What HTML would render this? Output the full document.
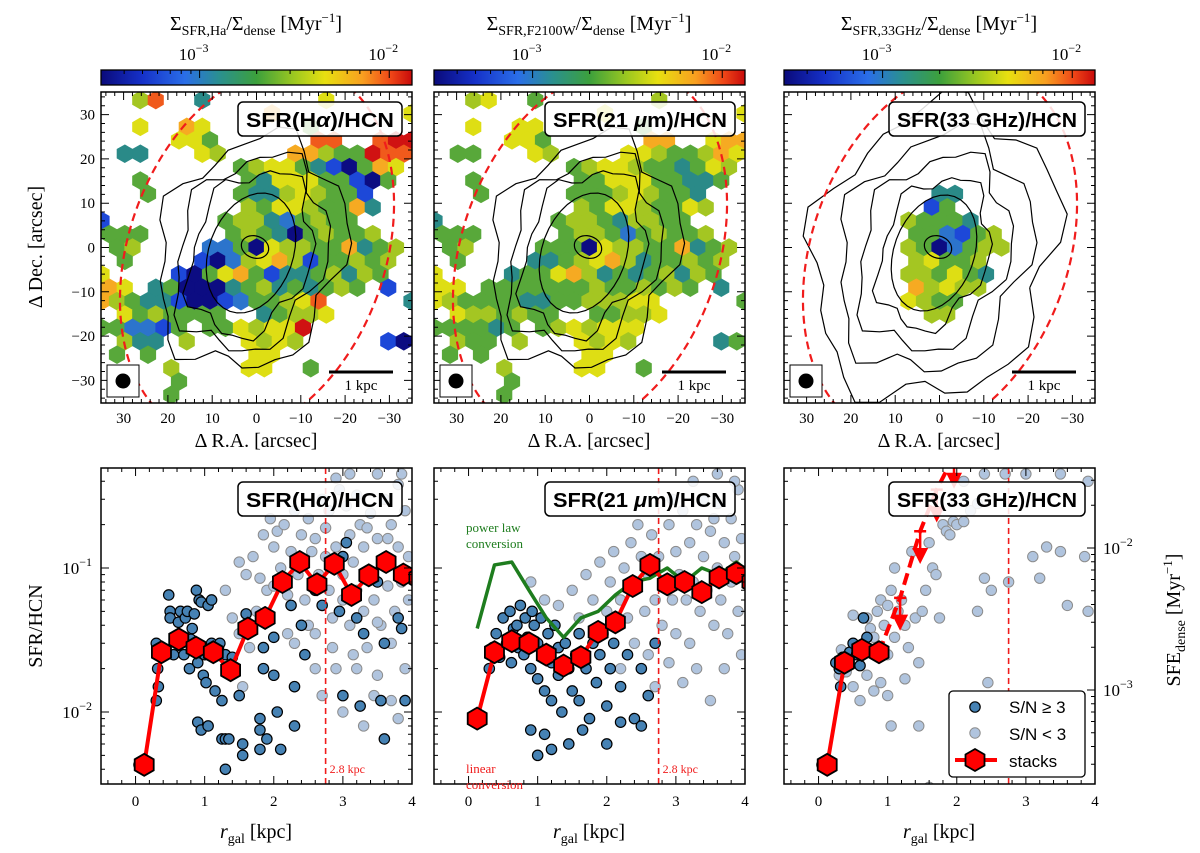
<!DOCTYPE html>
<html><head><meta charset="utf-8"><style>
body{margin:0;background:#fff}
svg{display:block}
.sf{font-family:"Liberation Serif","DejaVu Serif",serif}
.ss{font-family:"Liberation Sans","DejaVu Sans",sans-serif}
</style></head><body>
<svg id="fig" width="1200" height="853" viewBox="0 0 1200 853" xmlns="http://www.w3.org/2000/svg">
<defs>
<linearGradient id="jet" x1="0" x2="1" y1="0" y2="0">
<stop offset="0" stop-color="#0a0a7a"/><stop offset="0.13" stop-color="#1530c8"/><stop offset="0.27" stop-color="#2a6ee8"/><stop offset="0.38" stop-color="#2a9090"/><stop offset="0.5" stop-color="#3ca03c"/><stop offset="0.62" stop-color="#9cc820"/><stop offset="0.72" stop-color="#e8e010"/><stop offset="0.84" stop-color="#f8a020"/><stop offset="0.93" stop-color="#f04818"/><stop offset="1" stop-color="#c80a0a"/>
</linearGradient>
<clipPath id="cm0"><rect x="101" y="92" width="311" height="311"/></clipPath>
<clipPath id="cm1"><rect x="434" y="92" width="311" height="311"/></clipPath>
<clipPath id="cm2"><rect x="784" y="92" width="311" height="311"/></clipPath>
<clipPath id="cb0"><rect x="101" y="468" width="311" height="316"/></clipPath>
<clipPath id="cb1"><rect x="434" y="468" width="311" height="316"/></clipPath>
<clipPath id="cb2"><rect x="784" y="468" width="311" height="316"/></clipPath>
</defs>
</svg>
<script>
// ---------- data ----------
const stackR = [0.125,0.375,0.625,0.875,1.125,1.375,1.625,1.875,2.125,2.375,2.625,2.875,3.125,3.375,3.625,3.875,4.1];
const stack1 = [0.0043,0.026,0.032,0.028,0.026,0.0195,0.038,0.045,0.080,0.11,0.077,0.107,0.065,0.089,0.11,0.09,0.085];
const stack2 = [0.009,0.026,0.031,0.030,0.025,0.021,0.024,0.036,0.042,0.075,0.105,0.077,0.080,0.068,0.086,0.092,0.08];
const green2 = [0.038,0.105,0.11,0.07,0.045,0.033,0.045,0.05,0.065,0.08,0.085,0.10,0.08,0.10,0.09,0.11,0.09];
const stack3R = [0.125,0.375,0.625,0.875];
const stack3 = [0.0043,0.022,0.027,0.026];
const limit3R = [1.18,1.47,1.71,1.96];
const limit3 = [0.062,0.18,0.35,0.6];
const dark1 = [[0.05,0.0043],[0.3,0.012],[0.33,0.015],[0.32,0.02],[0.35,0.026],[0.3,0.03],[0.45,0.026],[0.5,0.05],[0.5,0.045],[0.48,0.065],[0.55,0.025],[0.6,0.03],[0.62,0.042],[0.65,0.05],[0.7,0.025],[0.72,0.045],[0.75,0.05],[0.78,0.02],[0.8,0.032],[0.82,0.038],[0.85,0.048],[0.88,0.07],[0.9,0.022],[0.92,0.06],[0.95,0.058],[0.98,0.018],[1.0,0.025],[1.02,0.016],[1.05,0.055],[1.1,0.06],[1.1,0.03],[1.15,0.014],[1.2,0.028],[1.22,0.03],[1.25,0.012],[1.3,0.025],[1.35,0.02],[1.4,0.024],[0.9,0.0085],[0.95,0.0075],[1.05,0.008],[1.25,0.0065],[1.3,0.0065],[1.35,0.0065],[1.55,0.006],[1.55,0.005],[1.3,0.004],[1.5,0.013],[1.6,0.048],[1.8,0.009],[1.8,0.0075],[1.85,0.028],[1.85,0.02],[1.9,0.0065],[1.8,0.0055],[2.0,0.018],[2.05,0.01],[2.1,0.0055],[2.0,0.033],[2.3,0.015],[2.3,0.008],[2.25,0.055],[2.4,0.04],[2.45,0.025],[2.6,0.07],[2.7,0.055],[2.85,0.1],[3.0,0.12],[3.05,0.15],[3.0,0.013],[3.2,0.045],[3.3,0.035],[3.5,0.08],[3.6,0.03],[3.55,0.012],[3.8,0.045],[3.85,0.038],[3.9,0.012],[2.95,0.05],[3.25,0.011],[3.6,0.0065]];
const light1 = [[1.3,0.07],[1.5,0.11],[1.6,0.09],[1.55,0.015],[1.7,0.12],[1.8,0.085],[1.85,0.17],[1.9,0.07],[2.0,0.14],[2.05,0.18],[2.1,0.1],[2.15,0.2],[2.2,0.065],[2.25,0.13],[2.3,0.25],[2.35,0.09],[2.4,0.17],[2.45,0.06],[2.5,0.22],[2.55,0.13],[2.6,0.16],[2.6,0.035],[2.65,0.09],[2.7,0.3],[2.75,0.19],[2.8,0.07],[2.8,0.25],[2.85,0.045],[2.9,0.14],[2.9,0.02],[2.95,0.35],[3.0,0.09],[3.0,0.06],[3.05,0.27],[3.1,0.04],[3.1,0.17],[3.15,0.025],[3.15,0.11],[3.2,0.32],[3.2,0.07],[3.25,0.2],[3.3,0.05],[3.3,0.14],[3.35,0.028],[3.4,0.09],[3.4,0.24],[3.45,0.06],[3.5,0.16],[3.5,0.018],[3.55,0.04],[3.6,0.11],[3.6,0.3],[3.65,0.075],[3.7,0.2],[3.7,0.03],[3.75,0.05],[3.8,0.14],[3.8,0.38],[3.85,0.08],[3.9,0.25],[3.9,0.02],[3.95,0.06],[3.95,0.12],[2.2,0.035],[2.5,0.04],[2.6,0.02],[3.3,0.008],[3.0,0.01],[2.7,0.013],[3.8,0.009],[3.45,0.013],[2.0,0.075],[1.75,0.05],[1.4,0.045],[1.5,0.035],[1.65,0.028],[2.3,0.03],[2.85,0.028],[3.5,0.042],[3.2,0.02],[2.4,0.11],[1.95,0.22],[2.75,0.12],[3.35,0.19],[3.65,0.16],[3.1,0.45],[3.5,0.45],[3.85,0.45],[2.9,0.42],[3.7,0.012]];
const dark2 = [[0.1,0.009],[0.3,0.02],[0.35,0.028],[0.4,0.035],[0.45,0.024],[0.5,0.045],[0.55,0.03],[0.6,0.05],[0.62,0.022],[0.65,0.038],[0.7,0.04],[0.72,0.028],[0.75,0.055],[0.8,0.025],[0.82,0.045],[0.85,0.033],[0.9,0.02],[0.92,0.05],[0.95,0.04],[1.0,0.03],[1.0,0.017],[1.05,0.045],[1.1,0.025],[1.1,0.014],[1.15,0.035],[1.2,0.022],[1.2,0.012],[1.25,0.04],[1.3,0.028],[1.3,0.018],[1.35,0.01],[1.4,0.03],[1.45,0.02],[1.5,0.014],[1.55,0.025],[1.6,0.035],[1.6,0.012],[1.7,0.02],[1.75,0.009],[1.8,0.03],[1.85,0.016],[1.9,0.025],[2.0,0.011],[2.05,0.02],[2.1,0.03],[2.2,0.015],[2.3,0.025],[2.4,0.009],[2.5,0.02],[2.6,0.013],[2.7,0.03],[0.9,0.0075],[1.2,0.0055],[1.45,0.006],[1.1,0.007],[1.65,0.0075],[2.2,0.0085],[2.5,0.008],[1.0,0.005],[2.0,0.006]];
const light2 = [[0.9,0.08],[1.1,0.06],[1.3,0.055],[1.5,0.07],[1.6,0.045],[1.7,0.09],[1.8,0.06],[1.9,0.11],[2.0,0.05],[2.05,0.08],[2.1,0.13],[2.2,0.06],[2.25,0.1],[2.3,0.045],[2.35,0.15],[2.4,0.07],[2.5,0.12],[2.55,0.05],[2.6,0.09],[2.65,0.17],[2.7,0.06],[2.75,0.12],[2.8,0.04],[2.85,0.08],[2.9,0.2],[2.95,0.06],[3.0,0.13],[3.0,0.035],[3.05,0.09],[3.1,0.25],[3.15,0.06],[3.2,0.15],[3.2,0.03],[3.25,0.08],[3.3,0.2],[3.35,0.05],[3.4,0.12],[3.4,0.3],[3.45,0.07],[3.5,0.18],[3.55,0.04],[3.6,0.1],[3.6,0.28],[3.65,0.06],[3.7,0.15],[3.75,0.035],[3.8,0.22],[3.8,0.08],[3.85,0.12],[3.9,0.05],[3.9,0.35],[3.95,0.16],[2.4,0.03],[2.6,0.025],[2.9,0.022],[3.3,0.02],[3.7,0.02],[3.5,0.012],[2.2,0.02],[1.95,0.035],[3.85,0.4],[3.6,0.45],[3.25,0.4],[2.7,0.015],[3.1,0.016],[3.95,0.025],[2.95,0.3],[3.55,0.22],[3.7,0.09],[2.45,0.2]];
const dark3 = [[0.05,0.0043],[0.25,0.022],[0.3,0.02],[0.32,0.015],[0.35,0.024],[0.4,0.021],[0.45,0.026],[0.5,0.03],[0.55,0.025],[0.6,0.021],[0.65,0.045],[0.7,0.033]];
const light3 = [[0.3,0.018],[0.33,0.027],[0.4,0.019],[0.5,0.047],[0.6,0.028],[0.7,0.045],[0.75,0.038],[0.8,0.033],[0.85,0.05],[0.9,0.06],[0.95,0.04],[1.0,0.055],[1.0,0.025],[1.05,0.07],[1.1,0.033],[1.1,0.1],[1.15,0.05],[1.2,0.06],[1.25,0.04],[1.3,0.028],[1.35,0.13],[1.4,0.045],[1.45,0.022],[1.5,0.05],[1.55,0.07],[1.6,0.15],[1.65,0.1],[1.7,0.09],[1.75,0.045],[1.8,0.2],[1.85,0.18],[1.9,0.17],[1.95,0.21],[2.0,0.2],[2.1,0.21],[2.2,0.25],[2.3,0.28],[2.4,0.085],[2.5,0.07],[2.45,0.016],[2.75,0.08],[3.1,0.12],[3.2,0.085],[3.3,0.14],[3.5,0.13],[3.6,0.055],[3.85,0.12],[3.9,0.05],[0.5,0.015],[0.6,0.012],[0.7,0.018],[0.8,0.014],[0.9,0.016],[1.05,0.008],[1.0,0.013],[1.25,0.017],[1.45,0.008],[1.6,0.003],[2.3,0.05],[2.1,0.4],[2.4,0.45],[2.7,0.45],[3.0,0.45],[3.5,0.45],[3.9,0.4]];
// hex map level grids (0=dark blue ... 9=red)
const grid1 = ["..58..3.......6.......","...........7........6.","..6..76......4........",".....664......88..8998",".33...65....775449888.",".........45664310476..","..4......4366644104..5","...4.....433565441...2",".........546654473...1","1.......455324544.....","444.....4543045445....",".45....2240655447345.5",".4....1025675144545.4.","6....10467413345354...","76.34000345343454.1...","754331001244568.....3.",".6454444..34556.......","442214.4465669........",".533.5...6565.....10..",".4.4......66..........","....5....66..4........",".....4................","....4................."];
const grid2 = ["..56..4.......5.......","...........6........6.","..6..66......4........",".....664......77..6776",".44...65....665445766.",".........45665443465..","..4......4466644334..5","...4.....444565443...3",".........546654465...3","3.......455435544.....","444.....4554245445....",".45....4440655447345.5",".4....3345675344545.4.","6....34467534345354...","66.44444445445454.3...","654444334455566.....4.",".6554544..44556.......","444434.4565666........",".544.5...6565.....34..",".4.4......66..........","....5....66..4........",".....4................","....4................."];
const grid3 = [".......................",".......................",".......................",".......................",".......................",".......................",".......................","..........33...........",".........14............","........54443..........","........442145.........","........5402455........","........56445..........","........554643.........","........75655..........","........6544...........",".........55............"];
const levelColors = ["#0c0c82","#1d48d8","#2c74cc","#2a8a88","#58a83a","#a4c622","#dede14","#f6aa22","#f05a1c","#d01212"];

// ---------- helpers ----------
const NS="http://www.w3.org/2000/svg";
const svg=document.getElementById('fig');
function mk(tag,attrs,parent){const e=document.createElementNS(NS,tag);for(const k in attrs)e.setAttribute(k,attrs[k]);(parent||svg).appendChild(e);return e;}
const PX=[101,434,784], PW=311;
const MT=92, MH=311, BT=468, BH=316;
function xr(p,r){return PX[p]+(r+0.5)/4.5*PW;}
function yv(v){return 568-(Math.log10(v)+1)*144;}
function ys(v){return 548-(Math.log10(v)+2)*142;}
function ax(p,a){return PX[p]+155.5-a*4.43;}
function dy(d){return 247.5-d*4.43;}
function cbx(p,v){return PX[p]+(Math.log10(v)+3.52)/1.64*PW;}

for(let p=0;p<3;p++){
  // ---------- colorbar ----------
  const cb=mk('rect',{x:PX[p],y:70,width:PW,height:15,fill:'url(#jet)',stroke:'#000','stroke-width':1.3});
  
  
  for(let e=-4;e<=-2;e++)for(let m=1;m<10;m++){const v=m*Math.pow(10,e);const x=cbx(p,v);if(x<PX[p]+1||x>PX[p]+PW-1)continue;
    const t=mk('line',{x1:x,x2:x,y1:70,y2:m===1?78:74,stroke:'#000','stroke-width':1});
    
    }
  [-3,-2].forEach((e)=>{const t=mk('text',{x:cbx(p,Math.pow(10,e))-6,y:60,'font-size':17,'text-anchor':'middle',class:'sf'});
    t.innerHTML='10<tspan font-size="12" dy="-8">−'+(-e)+'</tspan>';
    
    });
  const sub=['SFR,Ha','SFR,F2100W','SFR,33GHz'][p];
  const ct=mk('text',{x:PX[p]+155,y:30,'font-size':20,'text-anchor':'middle',class:'sf'});
  ct.innerHTML='Σ<tspan font-size="14" dy="5">'+sub+'</tspan><tspan dy="-5">/Σ</tspan><tspan font-size="14" dy="5">dense</tspan><tspan dy="-5"> [Myr</tspan><tspan font-size="13" dy="-8">−1</tspan><tspan dy="8">]</tspan>';
  
  

  // ---------- map ----------
  const mg=mk('g',{'clip-path':'url(#cm'+p+')'});
  
  
  const grid=[grid1,grid2,grid3][p];
  const R=8.95;
  grid.forEach((row,r)=>{for(let c=0;c<row.length;c++){const ch=row[c];if(ch==='.')continue;
    const cx=PX[p]+155.5+(c-10)*15.5+(r%2===0?7.75:0), cy=247.5+(r-11)*13.4;
    let pts=[];for(let k=0;k<6;k++){const a=Math.PI/180*(60*k-90);pts.push((cx+R*Math.cos(a)).toFixed(1)+','+(cy+R*Math.sin(a)).toFixed(1));}
    const h=mk('polygon',{points:pts.join(' '),fill:levelColors[+ch],stroke:levelColors[+ch],'stroke-width':0.6},mg);
    
    }});
  // contours
  const cont = p===2 ? [[14,11],[40,60],[52,78],[72,100],[92,122],[118,150]] : [[14,11],[42,62],[58,85],[72,100],[90,118]];
  cont.forEach(([rx,ry],i)=>{
    let d='';const n=36;for(let k=0;k<=n;k++){const a=2*Math.PI*k/n;const w=1+(i>1?0.09*Math.sin(5*a+i)+0.06*Math.cos(9*a+2*i):0);
      const ex=rx*w*Math.cos(a), ey=ry*w*Math.sin(a);const th=20*Math.PI/180;
      const X=PX[p]+154+(i>0?-4:0)+ex*Math.cos(th)-ey*Math.sin(th), Y=247+(i>0?6:0)+ex*Math.sin(th)+ey*Math.cos(th);
      d+=(k?'L':'M')+X.toFixed(1)+' '+Y.toFixed(1);}
    const c=mk('path',{d:d,fill:'none',stroke:'#000','stroke-width':1.2},mg);
    
    });
  const el=mk('ellipse',{cx:PX[p]+156,cy:252,rx:128,ry:192,transform:'rotate(20 '+(PX[p]+156)+' 252)',fill:'none',stroke:'#f01c1c','stroke-width':2.2,'stroke-dasharray':'8 5'},mg);
  
  
  // frame + ticks
  const mf=mk('rect',{x:PX[p],y:MT,width:PW,height:MH,fill:'none',stroke:'#000','stroke-width':1.5});
  
  
  for(let a=-34;a<=34;a+=2){const major=a%10===0;const L=major?8:4;const x=ax(p,a),y=dy(a);
    const t1=mk('path',{d:`M${x} ${MT}v${L}M${x} ${MT+MH}v${-L}M${PX[p]} ${y}h${L}M${PX[p]+PW} ${y}h${-L}`,stroke:'#000','stroke-width':1});
    
    
    if(major){const lx=mk('text',{x:x,y:423,'font-size':15,'text-anchor':'middle',class:'sf'});lx.textContent=a===0?'0':(a<0?'−'+(-a):a);
      
      
      if(p===0){const ly=mk('text',{x:95,y:y+5,'font-size':15,'text-anchor':'end',class:'sf'});ly.textContent=a===0?'0':(a<0?'−'+(-a):a);
        
        }}}
  const xl=mk('text',{x:PX[p]+155,y:447,'font-size':20,'text-anchor':'middle',class:'sf'});xl.textContent='Δ R.A. [arcsec]';
  
  
  // beam and scale bar
  const bb=mk('rect',{x:PX[p]+6,y:365,width:32,height:32,fill:'#fff',stroke:'#000','stroke-width':1});
  
  
  const bc=mk('circle',{cx:PX[p]+22,cy:381,r:7.5,fill:'#000'});
  
  
  const sb=mk('line',{x1:PX[p]+228,x2:PX[p]+292,y1:372,y2:372,stroke:'#000','stroke-width':3});
  
  
  const st=mk('text',{x:PX[p]+260,y:390,'font-size':15,'text-anchor':'middle',class:'sf'});st.textContent='1 kpc';
  
  

  // ---------- bottom scatter panel ----------
  const bg=mk('g',{'clip-path':'url(#cb'+p+')'});
  
  
  const lt=[light1,light2,light3][p], dk=[dark1,dark2,dark3][p];
  lt.forEach(([r,v])=>{const c=mk('circle',{cx:xr(p,r),cy:yv(v),r:5.2,fill:'#b0c4de',stroke:'#8c8c8c','stroke-width':1},bg);
    
    });
  dk.forEach(([r,v])=>{const c=mk('circle',{cx:xr(p,r),cy:yv(v),r:5.2,fill:'#4682b4',stroke:'#000','stroke-width':1.2},bg);
    
    });
  const vl=mk('line',{x1:xr(p,2.75),x2:xr(p,2.75),y1:BT,y2:BT+BH,stroke:'#f01c1c','stroke-width':1.6,'stroke-dasharray':'6 4'},bg);
  
  
  if(p<2){const t=mk('text',{x:xr(p,2.75)+4,y:773,'font-size':12,fill:'#f01c1c',class:'sf'});t.textContent='2.8 kpc';
    
    }
  if(p===1){const g=mk('polyline',{points:stackR.map((r,i)=>xr(1,r)+','+yv(green2[i])).join(' '),fill:'none',stroke:'#1e7d1e','stroke-width':3.5,'stroke-linejoin':'round'},bg);
    
    }
  const sR=p===2?stack3R:stackR, sV=[stack1,stack2,stack3][p];
  const sl=mk('polyline',{points:sR.map((r,i)=>xr(p,r)+','+yv(sV[i])).join(' '),fill:'none',stroke:'#ff0000','stroke-width':4,'stroke-linejoin':'round'},bg);
  
  
  if(p===2){
    const lp=[[stack3R[3],stack3[3]]].concat(limit3R.map((r,i)=>[r,limit3[i]]));
    const dl=mk('polyline',{points:lp.map(([r,v])=>xr(2,r)+','+yv(v)).join(' '),fill:'none',stroke:'#ff0000','stroke-width':4,'stroke-dasharray':'12 6'},bg);
    
    
    limit3R.forEach((r,i)=>{const x=xr(2,r),y=yv(limit3[i]);
      const a=mk('path',{d:`M${x-6} ${y}h12M${x} ${y}v26M${x-6} ${y+18}L${x} ${y+30}L${x+6} ${y+18}Z`,stroke:'#ff0000','stroke-width':2.5,fill:'#ff0000'},bg);
      
      });
  }
  sR.forEach((r,i)=>{const cx=xr(p,r),cy=yv(sV[i]);let pts=[];for(let k=0;k<6;k++){const a=Math.PI/180*(60*k-90);pts.push((cx+11*Math.cos(a)).toFixed(1)+','+(cy+11*Math.sin(a)).toFixed(1));}
    const h=mk('polygon',{points:pts.join(' '),fill:'#ff0000',stroke:'#000','stroke-width':1.8},bg);
    
    });
  const bf=mk('rect',{x:PX[p],y:BT,width:PW,height:BH,fill:'none',stroke:'#000','stroke-width':1.5});
  
  
  for(let k=-4;k<=40;k+=2){const r=k/10;const x=xr(p,r);const major=k%10===0;const L=major?8:4;
    const t=mk('path',{d:`M${x} ${BT}v${L}M${x} ${BT+BH}v${-L}`,stroke:'#000','stroke-width':1});
    
    
    if(major){const l=mk('text',{x:x,y:806,'font-size':15,'text-anchor':'middle',class:'sf'});l.textContent=String(k/10);
      
      }}
  for(let e=-3;e<=-1;e++)for(let m=1;m<10;m++){const y=yv(m*Math.pow(10,e));if(y<BT+1||y>BT+BH-1)continue;const L=m===1?8:4;
    const t=mk('path',{d:`M${PX[p]} ${y}h${L}`+(p<2?`M${PX[p]+PW} ${y}h${-L}`:''),stroke:'#000','stroke-width':1});
    
    }
  const bxl=mk('text',{x:PX[p]+155,y:838,'font-size':20,'text-anchor':'middle',class:'sf'});
  bxl.innerHTML='<tspan font-style="italic">r</tspan><tspan font-size="14" dy="5">gal</tspan><tspan dy="-5"> [kpc]</tspan>';
  
  

  // ---------- title boxes ----------
  [[102,'map-title-box'],[482,'panel-title-box']].forEach(([y,nm])=>{
    const bw=[164,190,196][p], bx=PX[p]+PW-bw-10;
    const b=mk('rect',{x:bx,y:y,width:bw,height:34,rx:5,fill:'rgba(255,255,255,0.85)',stroke:'#000','stroke-width':1.5});
    
    
    const t=mk('text',{x:bx+bw/2,y:y+25,'font-size':20,'font-weight':'bold','text-anchor':'middle',class:'ss',textLength:bw-16,lengthAdjust:'spacingAndGlyphs'});
    t.innerHTML=p===0?'SFR(H<tspan font-style="italic">α</tspan>)/HCN':(p===1?'SFR(21 <tspan font-style="italic">μ</tspan>m)/HCN':'SFR(33 GHz)/HCN');
    
    });
}
// y-axis labels
[[-1,'1'],[-2,'2']].forEach(([e,s])=>{const t=mk('text',{x:92,y:yv(Math.pow(10,e))+6,'font-size':17,'text-anchor':'end',class:'sf'});
  t.innerHTML='10<tspan font-size="12" dy="-8">−'+s+'</tspan>';
  
  });
[[-2,'2'],[-3,'3']].forEach(([e,s])=>{const y=ys(Math.pow(10,e));
  const tk=mk('path',{d:`M1095 ${y}h-8`,stroke:'#000','stroke-width':1});
  
  
  const t=mk('text',{x:1103,y:y+6,'font-size':17,class:'sf'});
  t.innerHTML='10<tspan font-size="12" dy="-8">−'+s+'</tspan>';
  
  });
for(let e=-4;e<=-1;e++)for(let m=2;m<10;m++){const y=ys(m*Math.pow(10,e));if(y<BT+1||y>BT+BH-1)continue;
  const t=mk('path',{d:`M1095 ${y}h-4`,stroke:'#000','stroke-width':1});
  
  }
const yt1=mk('text',{x:0,y:0,'font-size':20,'text-anchor':'middle',class:'sf',transform:'translate(42 626) rotate(-90)'});yt1.textContent='SFR/HCN';


const yt2=mk('text',{x:0,y:0,'font-size':20,'text-anchor':'middle',class:'sf',transform:'translate(42 247) rotate(-90)'});yt2.textContent='Δ Dec. [arcsec]';


const yt3=mk('text',{x:0,y:0,'font-size':20,'text-anchor':'middle',class:'sf',transform:'translate(1180 620) rotate(-90)'});
yt3.innerHTML='SFE<tspan font-size="14" dy="5">dense</tspan><tspan dy="-5"> [Myr</tspan><tspan font-size="13" dy="-8">−1</tspan><tspan dy="8">]</tspan>';


// annotations
const ann=[['power law',532,'#1e7d1e'],['conversion',548,'#1e7d1e'],['linear',773,'#f01c1c'],['conversion',789,'#f01c1c']];
ann.forEach(([s,y,c])=>{const t=mk('text',{x:466,y:y,'font-size':13,fill:c,class:'sf'});t.textContent=s;
  
  });
// legend
const lg=mk('rect',{x:949,y:691,width:136,height:86,rx:4,fill:'#fff',stroke:'#000','stroke-width':1.3});


const l1=mk('circle',{cx:975,cy:707,r:5.2,fill:'#4682b4',stroke:'#000','stroke-width':1.2});


const l2=mk('circle',{cx:975,cy:733,r:5.2,fill:'#b0c4de',stroke:'#8c8c8c','stroke-width':1});


const l3=mk('line',{x1:955,x2:997,y1:760,y2:760,stroke:'#ff0000','stroke-width':4});


const l4=mk('polygon',{points:'975,749 984.5,754.5 984.5,765.5 975,771 965.5,765.5 965.5,754.5',fill:'#ff0000',stroke:'#000','stroke-width':1.8});


[['S/N ≥ 3',713],['S/N < 3',740],['stacks',767]].forEach(([s,y])=>{const t=mk('text',{x:1009,y:y,'font-size':17,class:'ss'});t.textContent=s;
  
  });
</script>
</body></html>
